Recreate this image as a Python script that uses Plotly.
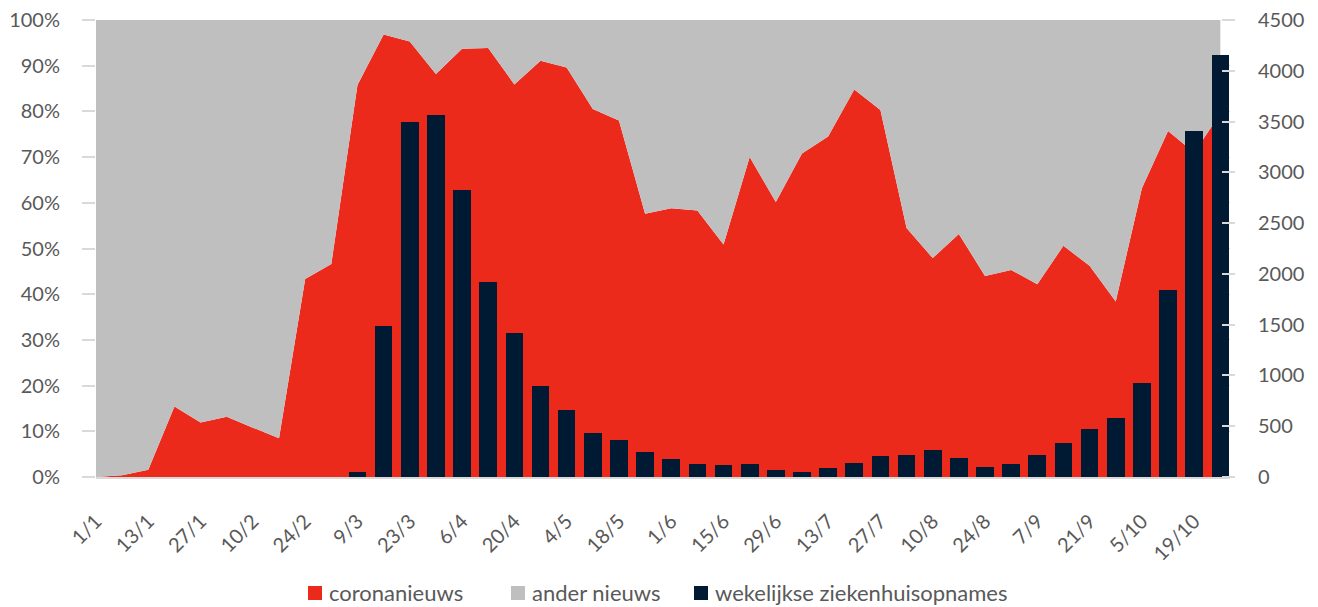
import plotly.graph_objects as go

# ---- data ----
weeks = ["1/1", "6/1", "13/1", "20/1", "27/1", "3/2", "10/2", "17/2", "24/2", "2/3",
         "9/3", "16/3", "23/3", "30/3", "6/4", "13/4", "20/4", "27/4", "4/5", "11/5",
         "18/5", "25/5", "1/6", "8/6", "15/6", "22/6", "29/6", "6/7", "13/7", "20/7",
         "27/7", "3/8", "10/8", "17/8", "24/8", "31/8", "7/9", "14/9", "21/9", "28/9",
         "5/10", "12/10", "19/10", "26/10"]

coronanieuws = [0.0, 0.4, 1.6, 15.4, 11.9, 13.2, 10.8, 8.5, 43.3, 46.6,
                85.8, 96.8, 95.3, 88.2, 93.7, 93.9, 85.9, 91.1, 89.6, 80.5,
                78.0, 57.6, 58.8, 58.3, 50.9, 70.0, 60.2, 70.8, 74.5, 84.8,
                80.3, 54.5, 47.9, 53.2, 44.0, 45.3, 42.2, 50.6, 46.2, 38.4,
                63.2, 75.7, 71.0, 79.5]

ander_nieuws = [100.0 - v for v in coronanieuws]

ziekenhuisopnames = [0, 0, 0, 0, 0, 0, 0, 0, 0, 0,
                     50, 1490, 3500, 3560, 2830, 1917, 1415, 896, 657, 430,
                     368, 243, 177, 128, 115, 128, 66, 52, 89, 141,
                     204, 217, 266, 190, 102, 128, 217, 332, 469, 581,
                     922, 1845, 3410, 4152]

legend_names = ["coronanieuws", "ander nieuws", "wekelijkse ziekenhuisopnames"]

# ---- styles ----
RED = "#EC2A1C"
GRAY = "#BFBFBF"
NAVY = "#001A33"
TXT = "#595959"
AX = "#D9D9D9"
FONT = "Lato"

OFF = 8  # default page body margin
W, H = 1318 - OFF, 607 - OFF
ML, MT = 96 - OFF, 20 - OFF
MR = W - (1230 - OFF)
MB = H - (477 - OFF)
PW = W - ML - MR
PH = H - MT - MB

def px_x(p):  # page pixel -> paper fraction
    return (p - OFF - ML) / PW

def px_y(p):
    return (H - MB - (p - OFF)) / PH

idx = list(range(len(weeks)))

fig = go.Figure()
fig.add_trace(go.Scatter(x=idx, y=coronanieuws, stackgroup="one", mode="none",
                         fillcolor=RED, name=legend_names[0], showlegend=False))
fig.add_trace(go.Scatter(x=idx, y=ander_nieuws, stackgroup="one", mode="none",
                         fillcolor=GRAY, name=legend_names[1], showlegend=False))
fig.add_trace(go.Bar(x=idx, y=ziekenhuisopnames, yaxis="y2", width=0.675,
                     marker=dict(color=NAVY, line=dict(width=0)),
                     name=legend_names[2], showlegend=False))

fig.update_layout(
    width=W, height=H,
    margin=dict(l=ML, r=MR, t=MT, b=MB, autoexpand=False),
    paper_bgcolor="white", plot_bgcolor="white",
    font=dict(family=FONT, color=TXT, size=20),
    bargap=0,
    xaxis=dict(range=[0, 43.37], tickvals=idx[0::2], ticktext=weeks[0::2],
               tickangle=-45, ticks="", showgrid=False, zeroline=False,
               showline=True, linecolor=AX, linewidth=1.5, automargin=False,
               ticklabeloverflow="allow",
               tickfont=dict(family=FONT, color=TXT, size=20),
               ticklabelstandoff=23),
    yaxis=dict(range=[0, 100], tickvals=list(range(0, 101, 10)),
               ticktext=[f"{v}%" for v in range(0, 101, 10)],
               ticks="outside", ticklen=13, tickcolor=AX, tickwidth=1.5,
               showgrid=True, gridcolor=AX, gridwidth=1, zeroline=False,
               showline=False, automargin=False, ticklabeloverflow="allow",
               tickfont=dict(family=FONT, color=TXT, size=20),
               ticklabelstandoff=18),
    yaxis2=dict(range=[0, 4500], tickvals=list(range(0, 4501, 500)),
                overlaying="y", side="right", anchor="free",
                position=px_x(1221),
                ticks="outside", ticklen=13, tickcolor=AX, tickwidth=1.5,
                showgrid=False, zeroline=False, showline=False, automargin=False,
                ticklabeloverflow="allow",
                tickfont=dict(family=FONT, color=TXT, size=20),
                ticklabelstandoff=19),
    showlegend=False,
)

# manual legend (squares + real text)
LEG_Y = 592
legend_items = [(308, RED, legend_names[0]), (511, GRAY, legend_names[1]),
                (694, NAVY, legend_names[2])]
for x0, col, name in legend_items:
    fig.add_shape(type="rect", xref="paper", yref="paper",
                  x0=px_x(x0), x1=px_x(x0 + 14), y0=px_y(LEG_Y + 8), y1=px_y(LEG_Y - 6),
                  fillcolor=col, line=dict(width=0))
    fig.add_annotation(xref="paper", yref="paper", x=px_x(x0 + 19), y=px_y(LEG_Y),
                       xanchor="left", yanchor="middle", text=name, showarrow=False,
                       font=dict(family=FONT, color=TXT, size=22))

fig.write_html("out.html")
